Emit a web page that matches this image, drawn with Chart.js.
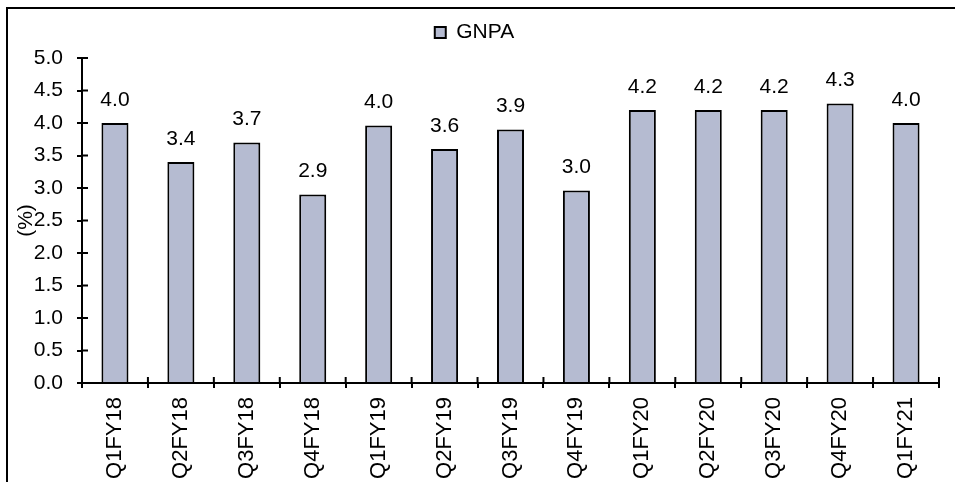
<!DOCTYPE html>
<html lang="en">
<head>
  <meta charset="UTF-8">
  <title>GNPA</title>
  <script src="https://cdn.jsdelivr.net/npm/chart.js"></script>
  <style>
    body { margin: 0; background: #fff; overflow: hidden; }
    .wrap { position: relative; width: 955px; height: 482px; }
    .frame { position: absolute; left: 6px; top: 7px; right: 0; bottom: 0; border-top: 2px solid #000; border-left: 2px solid #000; pointer-events: none; }
  </style>
</head>
<body>
  <div class="wrap">
    <canvas id="gnpaChart"></canvas>
    <div class="frame"></div>
  </div>

  <script>
    // Chart data
    const quarters = ['Q1FY18', 'Q2FY18', 'Q3FY18', 'Q4FY18', 'Q1FY19', 'Q2FY19', 'Q3FY19',
      'Q4FY19', 'Q1FY20', 'Q2FY20', 'Q3FY20', 'Q4FY20', 'Q1FY21'];
    const gnpa = [4.0, 3.4, 3.7, 2.9, 3.96, 3.6, 3.9, 2.96, 4.2, 4.2, 4.2, 4.3, 4.0];
    const yTicks = [0, 0.5, 1, 1.5, 2, 2.5, 3, 3.5, 4, 4.5, 5];

    const FONT = '"Liberation Sans", Arial, sans-serif';
    const barFill = '#b5bbd1';

    // value labels above each bar
    const valueLabels = {
      id: 'valueLabels',
      afterDatasetsDraw(chart) {
        const ctx = chart.ctx;
        const meta = chart.getDatasetMeta(0);
        ctx.save();
        ctx.font = '21px ' + FONT;
        ctx.fillStyle = '#000';
        ctx.textAlign = 'center';
        ctx.textBaseline = 'middle';
        meta.data.forEach((bar, i) => {
          ctx.fillText(gnpa[i].toFixed(1), bar.x, bar.y - 23);
        });
        ctx.restore();
      }
    };

    // Excel style cross ticks: inner half of each tick mark
    const crossTicks = {
      id: 'crossTicks',
      afterDraw(chart) {
        const ctx = chart.ctx;
        const x = chart.scales.x;
        const y = chart.scales.y;
        ctx.save();
        ctx.strokeStyle = '#000';
        ctx.lineWidth = 2;
        ctx.beginPath();
        y.ticks.forEach((t, i) => {
          const py = y.getPixelForTick(i);
          ctx.moveTo(y.right, py);
          ctx.lineTo(y.right + 6, py);
        });
        for (let i = 0; i <= quarters.length; i++) {
          const px = x.getPixelForValue(i - 0.5);
          ctx.moveTo(px, x.top);
          ctx.lineTo(px, x.top - 6);
        }
        ctx.stroke();
        ctx.restore();
      }
    };

    new Chart(document.getElementById('gnpaChart'), {
      type: 'bar',
      data: {
        labels: quarters,
        datasets: [{
          label: 'GNPA',
          data: gnpa,
          backgroundColor: barFill,
          borderColor: '#000',
          borderWidth: 2,
          categoryPercentage: 1,
          barPercentage: 0.41
        }]
      },
      options: {
        responsive: true,
        maintainAspectRatio: false,
        animation: false,
        layout: { padding: { top: 12, left: 10, right: 16, bottom: 0 } },
        plugins: {
          legend: {
            weight: 3000,
            labels: {
              boxWidth: 11,
              boxHeight: 11,
              padding: 10,
              color: '#000',
              font: { family: FONT, size: 21 }
            }
          },
          // empty spacer between legend and plot
          title: {
            display: true,
            text: '',
            weight: 2000,
            padding: 0,
            font: { size: 5, lineHeight: 1 }
          },
          tooltip: { enabled: false }
        },
        scales: {
          x: {
            grid: { drawOnChartArea: false, color: '#000', lineWidth: 2, tickLength: 5 },
            border: { color: '#000', width: 2 },
            ticks: {
              minRotation: 90,
              maxRotation: 90,
              autoSkip: false,
              padding: 9,
              color: '#000',
              font: { family: FONT, size: 22 }
            },
            afterFit(scale) { scale.height = 99; }
          },
          y: {
            min: 0,
            max: 5,
            afterBuildTicks(scale) { scale.ticks = yTicks.map(v => ({ value: v })); },
            grid: { drawOnChartArea: false, color: '#000', lineWidth: 2, tickLength: 5 },
            border: { color: '#000', width: 2 },
            ticks: {
              padding: 14,
              color: '#000',
              font: { family: FONT, size: 21 },
              callback: v => Number(v).toFixed(1)
            },
            title: {
              display: true,
              text: '(%)',
              color: '#000',
              padding: { top: 4, bottom: 0 },
              font: { family: FONT, size: 21 }
            },
            afterFit(scale) { scale.width = 72; }
          }
        }
      },
      plugins: [valueLabels, crossTicks]
    });
  </script>
</body>
</html>
